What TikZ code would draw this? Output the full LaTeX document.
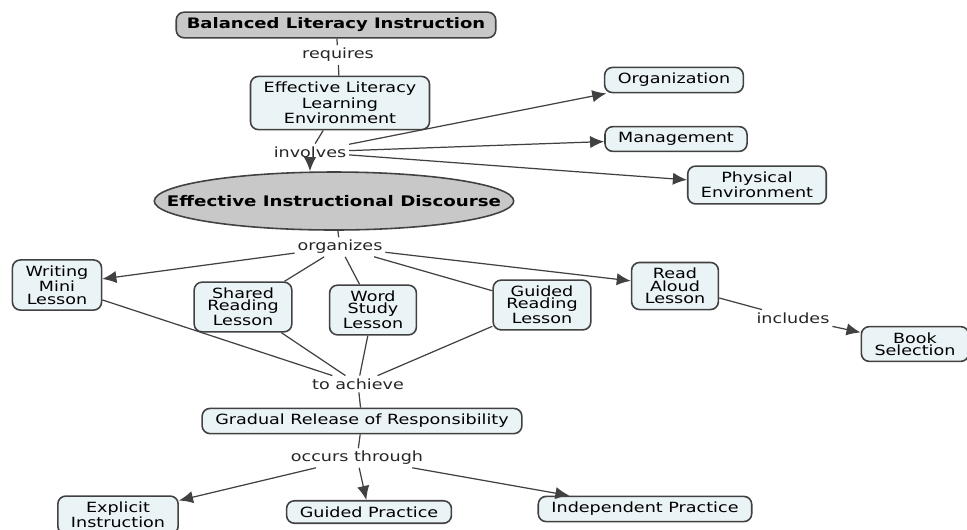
\documentclass[tikz,border=0pt]{standalone}
\usepackage{fontspec}
\setmainfont{DejaVu Sans}[FakeStretch=1.25]
\usetikzlibrary{arrows.meta}
\usetikzlibrary{shapes.geometric}
\definecolor{conceptfill}{RGB}{234,243,246}
\definecolor{conceptline}{RGB}{65,65,65}
\definecolor{mainfill}{RGB}{200,200,200}
\tikzset{
	>={Latex[length=8pt,width=7pt]},
	concept/.style={
		rectangle, 
		rounded corners=4.5pt, 
		fill=conceptfill,
		draw=conceptline, line width=0.9pt,
		align=center, 
		inner xsep=7.5pt, inner ysep=3.3pt,
		font=\fontsize{8}{7}\selectfont},
	mainconcept/.style={
		concept, 
		fill=mainfill,
		inner xsep=6pt,
		font=\fontsize{8.2}{8}\selectfont\bfseries},
	discourse/.style={
		ellipse, 
		fill=mainfill,
		draw=conceptline, line width=0.9pt,
		inner xsep=-0.8cm,
		minimum width=7.16cm, minimum height=1.16cm,
		font=\fontsize{8.3}{8}\selectfont\bfseries},
	linkword/.style={font=\fontsize{8}{8}\selectfont, inner sep=1.5pt, text=black!85},
	line/.style={draw=conceptline, line width=0.7pt},
	arrowline/.style={line, ->},
}

\begin{document}
\begin{tikzpicture}
	[x=0.02cm, y=-0.02cm]
	\useasboundingbox (0,0) rectangle (967,529);
	
	% concepts
	\node[mainconcept] (bli) at (336,25) {Balanced Literacy Instruction};
	\node[concept] (elle) at (340,103) {Effective Literacy\\Learning\\Environment};
	\node[concept] (org) at (674,80) {Organization};
	\node[concept] (man) at (676,139) {Management};
	\node[concept] (phys) at (757,185) {Physical\\Environment};
	\node[discourse] (eid) at (334,201) {Effective Instructional Discourse};
	\node[concept] (wml) at (57,285) {Writing\\Mini\\Lesson};
	\node[concept] (srl) at (243,307) {Shared\\Reading\\Lesson};
	\node[concept] (wsl) at (373,310) {Word\\Study\\Lesson};
	\node[concept] (grl) at (542,305) {Guided\\Reading\\Lesson};
	\node[concept] (ral) at (675,286) {Read\\Aloud\\Lesson};
	\node[concept] (book) at (915,344) {Book\\Selection};
	\node[concept] (grr) at (362,421) {Gradual Release of Responsibility};
	\node[concept] (expl) at (118,515) {Explicit\\Instruction};
	\node[concept] (gp) at (369,512) {Guided Practice};
	\node[concept] (ip) at (645,509) {Independent Practice};
	
	% linking words
	\node[linkword] (requires) at (338,55) {requires};
	\node[linkword] (involves) at (310,152) {involves};
	\node[linkword] (organizes) at (340,247) {organizes};
	\node[linkword] (includes) at (793,318) {includes};
	\node[linkword] (achieve) at (358,384) {to achieve};
	\node[linkword] (occurs) at (357,458) {occurs through};
	
	% connectors
	\path[line] (bli) -- (requires);
	\path[line] (requires) -- (elle);
	\path[line] (elle) -- (involves);
	\path[arrowline] (involves) -- (org);
	\path[arrowline] (involves) -- (man);
	\path[arrowline] (involves) -- (phys);
	\path[arrowline] (involves.south) -- (eid.north -| involves.south);
	\path[line] (eid) -- (organizes);
	\path[arrowline] (organizes) -- (wml);
	\path[line] (organizes) -- (srl);
	\path[line] (organizes) -- (wsl);
	\path[line] (organizes) -- (grl);
	\path[arrowline] (organizes) -- (ral);
	\path[line] (ral) -- (includes);
	\path[arrowline] (includes) -- (book);
	\path[line] (wml) -- (achieve);
	\path[line] (srl) -- (achieve);
	\path[line] (wsl) -- (achieve);
	\path[line] (grl) -- (achieve);
	\path[line] (achieve) -- (grr);
	\path[line] (grr) -- (occurs);
	\path[arrowline] (occurs) -- (expl);
	\path[arrowline] (occurs) -- (gp);
	\path[arrowline] (occurs) -- (ip);
	
\end{tikzpicture}
\end{document}
